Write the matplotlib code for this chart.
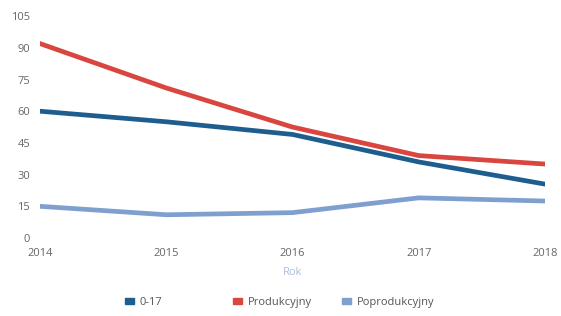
import matplotlib.pyplot as plt
from matplotlib.patches import Patch

plt.rcParams['font.family'] = ['Open Sans', 'DejaVu Sans']

years = [2014, 2015, 2016, 2017, 2018]
wiek_0_17 = [60, 55, 49, 36, 25.5]
produkcyjny = [92, 71, 52.5, 39, 35]
poprodukcyjny = [15, 11, 12, 19, 17.5]
y_ticks = [0, 15, 30, 45, 60, 75, 90, 105]
series_names = ['0-17', 'Produkcyjny', 'Poprodukcyjny']

c_young = '#1e5e8e'
c_prod = '#d9463f'
c_old = '#7f9fcf'
colors = [c_young, c_prod, c_old]

fig = plt.figure(figsize=(5.61, 3.16), dpi=100)
ax = fig.add_axes([0.0713, 0.2468, 0.9002, 0.7022])

ax.plot(years, poprodukcyjny, color=c_old, lw=3.4, solid_joinstyle='round')
ax.plot(years, produkcyjny, color=c_prod, lw=3.4, solid_joinstyle='round')
ax.plot(years, wiek_0_17, color=c_young, lw=3.4, solid_joinstyle='round')

ax.set_xlim(2014, 2018)
ax.set_ylim(0, 105)
ax.set_xticks(years)
ax.set_yticks(y_ticks)
ax.tick_params(length=0, labelsize=8, colors='#666666')
ax.tick_params(axis='y', pad=7)
ax.tick_params(axis='x', pad=7)
for s in ax.spines.values():
    s.set_visible(False)
ax.axhline(0, color='#e4e4e4', lw=0.8, ls=(0, (2, 2)))

ax.set_xlabel('Rok', color='#a9bfdc', fontsize=8, labelpad=6)

# legend entries sit in fixed-width slots, so one legend per entry
legend_x = [0.2228, 0.4153, 0.6096]
for name, col, x in zip(series_names, colors, legend_x):
    leg = fig.legend([Patch(color=col)], [name], loc='center left',
                     bbox_to_anchor=(x, 0.044), frameon=False, fontsize=8,
                     borderpad=0, borderaxespad=0, handletextpad=0.5,
                     handlelength=0.8, handleheight=0.45)
    for t in leg.get_texts():
        t.set_color('#555555')

fig.savefig('out.png', dpi=100)
